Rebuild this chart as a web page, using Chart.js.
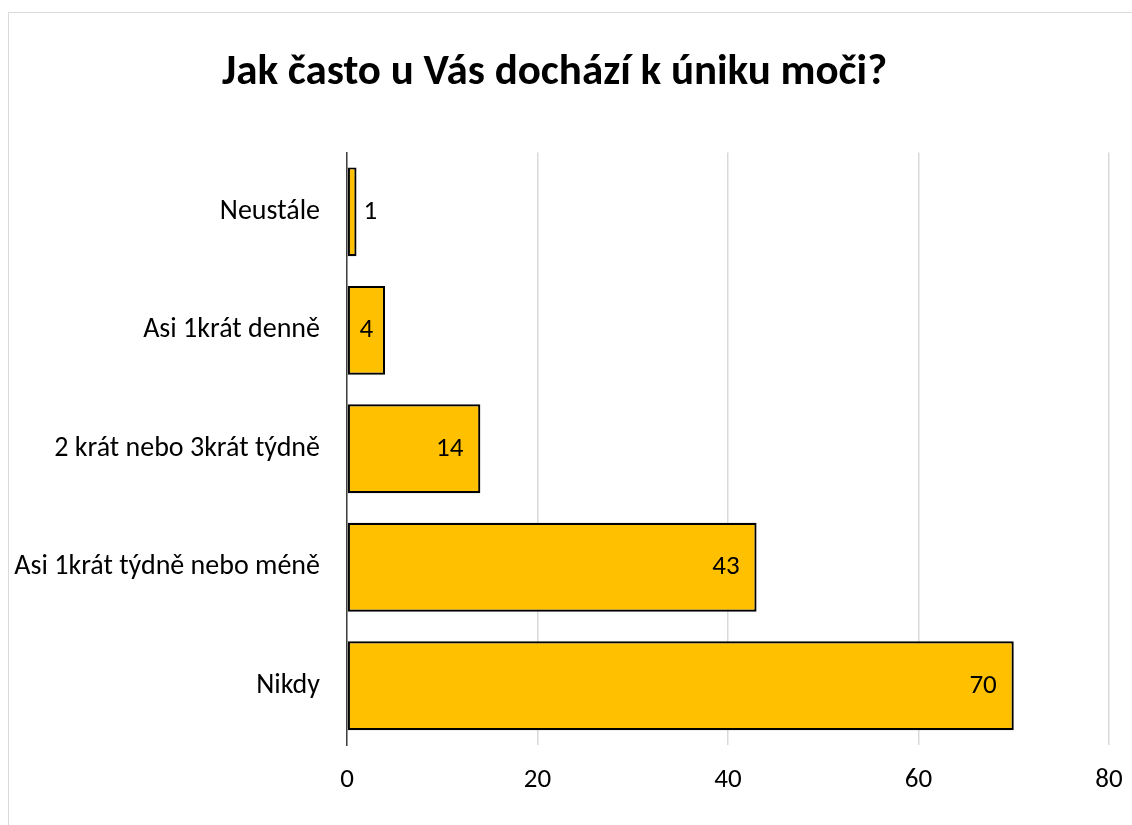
<!DOCTYPE html>
<html>
<head>
<meta charset="utf-8">
<script src="https://cdn.jsdelivr.net/npm/chart.js"></script>
<style>
  html, body { margin: 0; padding: 0; background: #fff; }
  #wrap { position: relative; width: 1132px; height: 825px; overflow: hidden; }
  #frame { position: absolute; left: 8px; top: 12px; width: 1140px; height: 830px; border: 1px solid #d9d9d9; box-sizing: border-box; }
  canvas { position: absolute; left: 0; top: 0; }
</style>
</head>
<body>
<div id="wrap">
  <div id="frame"></div>
  <canvas id="myChart" width="1132" height="825"></canvas>
</div>
<script>
const ctx = document.getElementById('myChart');

const odpovedi = ['Neustále', 'Asi 1krát denně', '2 krát nebo 3krát týdně', 'Asi 1krát týdně nebo méně', 'Nikdy'];
const pocty = [1, 4, 14, 43, 70];
const osaX = [0, 20, 40, 60, 80];

const pismo = 'Carlito, Calibri, Lato, sans-serif';
const velikost = 27;

// popisky hodnot u konce sloupců
const hodnoty = {
  id: 'hodnoty',
  afterDatasetsDraw(chart) {
    const c = chart.ctx;
    const meta = chart.getDatasetMeta(0);
    c.save();
    c.font = velikost + 'px ' + pismo;
    c.fillStyle = '#000';
    c.textBaseline = 'middle';
    meta.data.forEach((bar, i) => {
      const txt = String(pocty[i]);
      const w = c.measureText(txt).width;
      const delka = bar.x - bar.base;
      if (delka < w + 6) {
        c.textAlign = 'left';
        c.fillText(txt, bar.x + 7, bar.y);
      } else if (delka < w + 34) {
        c.textAlign = 'center';
        c.fillText(txt, (bar.x + bar.base) / 2, bar.y);
      } else {
        c.textAlign = 'right';
        c.fillText(txt, bar.x - 17, bar.y);
      }
    });
    c.restore();
  }
};

new Chart(ctx, {
  type: 'bar',
  data: {
    labels: odpovedi,
    datasets: [{
      data: pocty,
      backgroundColor: '#FFC000',
      borderColor: '#000',
      borderWidth: 2.2,
      borderSkipped: false,
      barPercentage: 0.75,
      categoryPercentage: 1
    }]
  },
  options: {
    indexAxis: 'y',
    responsive: false,
    animation: false,
    layout: { padding: { top: 47, right: 23, left: 0, bottom: 0 } },
    scales: {
      x: {
        min: 0,
        max: 80,
        afterBuildTicks: (s) => { s.ticks = osaX.map(v => ({ value: v })); },
        grid: { color: '#d9d9d9', lineWidth: 1.5, drawTicks: false },
        border: { display: false },
        ticks: { padding: 19, color: '#000', font: { family: pismo, size: velikost } },
        afterFit: (s) => { s.height = 80; s.paddingLeft = 0; s.paddingRight = 0; }
      },
      y: {
        grid: { display: false, drawTicks: false },
        border: { color: '#404040', width: 1.5 },
        ticks: { padding: 27, color: '#000', font: { family: pismo, size: 28 } },
        afterFit: (s) => { s.width = 347; s.paddingTop = 0; s.paddingBottom = 0; }
      }
    },
    plugins: {
      legend: { display: false },
      tooltip: { enabled: false },
      title: {
        display: true,
        text: 'Jak často u Vás dochází k úniku moči?',
        color: '#000',
        font: { family: pismo, size: 43, weight: 'bold' },
        padding: { top: 0, bottom: 54 }
      }
    }
  },
  plugins: [hodnoty]
});
</script>
</body>
</html>
